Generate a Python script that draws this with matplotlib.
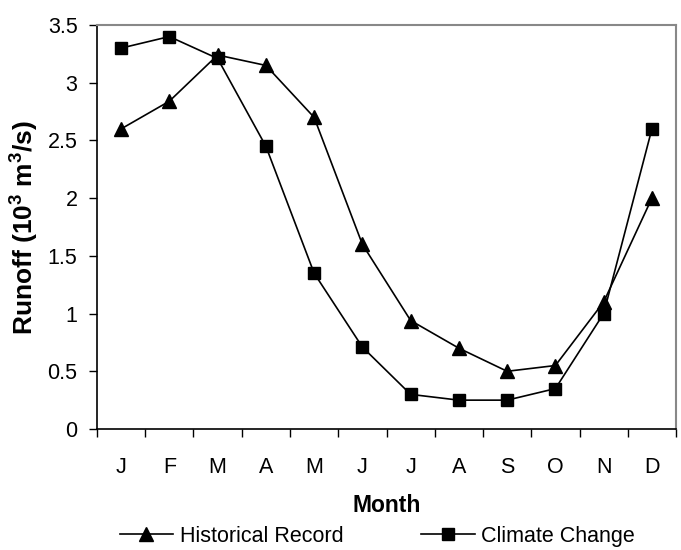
import matplotlib.pyplot as plt
import numpy as np

months = ["J", "F", "M", "A", "M", "J", "J", "A", "S", "O", "N", "D"]
historical = [2.6, 2.84, 3.24, 3.15, 2.7, 1.6, 0.94, 0.7, 0.5, 0.55, 1.1, 2.0]
climate = [3.3, 3.4, 3.21, 2.45, 1.35, 0.71, 0.3, 0.25, 0.25, 0.35, 1.0, 2.6]

plt.rcParams['font.family'] = ['Liberation Sans', 'DejaVu Sans']
plt.rcParams['mathtext.fontset'] = 'custom'
plt.rcParams['mathtext.rm'] = 'Liberation Sans'
plt.rcParams['mathtext.bf'] = 'Liberation Sans:bold'

fig = plt.figure(figsize=(6.81, 5.5), dpi=100)
ax = fig.add_axes([0.1424, 0.22, 0.8503, 0.7345])

x = np.arange(len(months))
ax.plot(x, historical, color="black", lw=1.2, marker="^", markersize=10, label="Historical Record")
ax.plot(x, climate, color="black", lw=1.2, marker="s", markersize=8.5, label="Climate Change")

ax.set_xlim(-0.5, 11.5)
ax.set_ylim(0, 3.5)
ax.set_xticks(x)
ax.set_xticklabels(months, fontsize=15.5)
ax.set_xticks(np.arange(-0.5, 12, 1), minor=True)
ax.tick_params(axis="x", which="major", length=0, pad=20)
ax.tick_params(axis="x", which="minor", length=6, width=1, direction="out")
ax.set_yticks(np.arange(0, 3.51, 0.5))
ax.set_yticklabels(["0", "0.5", "1", "1.5", "2", "2.5", "3", "3.5"], fontsize=15.5)
ax.tick_params(axis="y", length=6, width=1, direction="out", pad=8)

for s in ["top", "right"]:
    ax.spines[s].set_color("#888888")
    ax.spines[s].set_linewidth(1.5)
for s in ["left", "bottom"]:
    ax.spines[s].set_color("black")
    ax.spines[s].set_linewidth(1.2)

ax.set_xlabel("Month", fontsize=16.5, fontweight="bold", labelpad=12)
ax.set_ylabel(r"Runoff (10$\mathbf{^3}$ m$\mathbf{^3}$/s)", fontsize=19, fontweight="bold", labelpad=5)

ax.legend(loc="center", bbox_to_anchor=(0.484, -0.265), ncol=2, frameon=False,
          fontsize=15.5, handlelength=2.5, handletextpad=0.3, columnspacing=3.6,
          borderaxespad=0, borderpad=0)

fig.savefig("out.png", dpi=100)
